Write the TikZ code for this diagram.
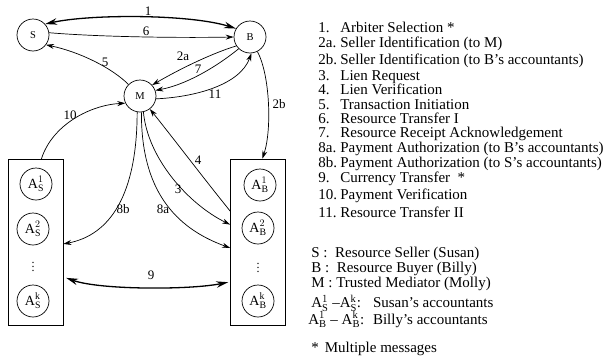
\documentclass[tikz,border=0pt]{standalone}
\usepackage{fontspec}
\setmainfont{Liberation Serif}
\usetikzlibrary{arrows.meta}

\begin{document}
\begin{tikzpicture}[x=1pt,y=-1pt,line width=0.7pt,
  party/.style={draw,circle,minimum size=32pt,inner sep=0pt,font=\fontsize{10.5}{12}\selectfont},
  acct/.style={draw,circle,minimum size=32pt,inner sep=0pt,font=\fontsize{14}{16}\selectfont},
  grp/.style={draw,minimum width=55pt,minimum height=166pt,inner sep=0pt},
  msg/.style={-{Stealth[length=8pt,width=5pt]}},
  bulk/.style={{Stealth[length=12pt,width=6.5pt]}-{Stealth[length=12pt,width=6.5pt]},line width=1.3pt},
  lbl/.style={inner sep=0.75pt,font=\fontsize{13}{15}\selectfont},
  txt/.style={anchor=base west,inner sep=0pt,font=\fontsize{15}{16}\selectfont}]
\useasboundingbox (0,0) rectangle (605,362);

%Parties
\node [party] (S) at (33,35) {S};
\node [party] (B) at (250,37) {B};
\node [party] (M) at (140,96) {M};

%Accountant groups
\node [grp] (boxL) at (35.5,242.5) {};
\node [grp] (boxR) at (258,242) {};
\node [acct] (AS1) at (36,184) {$\mathrm{A}^{1}_{\mathrm{S}}$};
\node [acct] (AS2) at (33,229) {$\mathrm{A}^{2}_{\mathrm{S}}$};
\node [inner sep=0pt,font=\fontsize{12}{12}\selectfont] (ASd) at (33,264) {$\vdots$};
\node [acct] (ASk) at (33,301) {$\mathrm{A}^{\mathrm{k}}_{\mathrm{S}}$};
\node [acct] (AB1) at (260,185) {$\mathrm{A}^{1}_{\mathrm{B}}$};
\node [acct] (AB2) at (258,228) {$\mathrm{A}^{2}_{\mathrm{B}}$};
\node [inner sep=0pt,font=\fontsize{12}{12}\selectfont] (ABd) at (258,265) {$\vdots$};
\node [acct] (ABk) at (258,301) {$\mathrm{A}^{\mathrm{k}}_{\mathrm{B}}$};

%Messages
\draw [bulk] (S.42) .. controls (90,14) and (190,14) .. (B.149);
\draw [msg] (S.8) .. controls (100,37) and (180,38) .. (B.180);
\draw [msg] (M.135) .. controls (112,68) and (80,52) .. (S.-37);
\draw [msg] (B.213) .. controls (210,54) and (178,70) .. (M.42);
\draw [msg] (B.226) .. controls (215,68) and (185,85) .. (M.20);
\draw [msg] (M.-10) .. controls (195,97) and (240,85) .. (B.-85);
\draw [msg] (B.-63) .. controls (270,75) and (272,130) .. (boxR.87);
\draw [msg] (boxL.86) .. controls (52,125) and (90,105) .. (M.206);
\draw [msg] (boxR.132) .. controls (205,180) and (170,134) .. (M.-53);
\draw [msg] (M.-78) .. controls (148,160) and (190,205) .. (boxR.148);
\draw [msg] (M.-85) .. controls (141,190) and (175,228) .. (boxR.192);
\draw [msg] (M.-100) .. controls (137,195) and (110,235) .. (boxL.-3);
\draw [bulk,shorten <=3pt,shorten >=2pt] (boxL.-51) .. controls (100,290) and (190,290) .. (boxR.235);

%Message numbers
\node [lbl] (m1) at (148,11) {1};
\node [lbl] (m6) at (146,31) {6};
\node [lbl] (m5) at (105,62) {5};
\node [lbl] (m2a) at (183,56) {2a};
\node [lbl] (m7) at (198,69) {7};
\node [lbl] (m11) at (215,94) {11};
\node [lbl] (m2b) at (279,104) {2b};
\node [lbl] (m10) at (70,115) {10};
\node [lbl] (m4) at (198,160) {4};
\node [lbl] (m3) at (178,189) {3};
\node [lbl] (m8a) at (163,209) {8a};
\node [lbl] (m8b) at (123,209) {8b};
\node [lbl] (m9) at (151,275) {9};

%Message list
\node [txt] (n1) at (318,32.7) {1.};
\node [txt] (t1) at (340,32.7) {Arbiter Selection *};
\node [txt] (n2a) at (318,47.7) {2a.};
\node [txt] (t2a) at (340,47.7) {Seller Identification (to M)};
\node [txt] (n2b) at (318,64) {2b.};
\node [txt] (t2b) at (340,64) {Seller Identification (to B's accountants)};
\node [txt] (n3) at (318,80) {3.};
\node [txt] (t3) at (340,80) {Lien Request};
\node [txt] (n4) at (318,94) {4.};
\node [txt] (t4) at (340,94) {Lien Verification};
\node [txt] (n5) at (318,109) {5.};
\node [txt] (t5) at (340,109) {Transaction Initiation};
\node [txt] (n6) at (318,123) {6.};
\node [txt] (t6) at (340,123) {Resource Transfer I};
\node [txt] (n7) at (318,137) {7.};
\node [txt] (t7) at (340,137) {Resource Receipt Acknowledgement};
\node [txt] (n8a) at (318,152.7) {8a.};
\node [txt] (t8a) at (340,152.7) {Payment Authorization (to B's accountants)};
\node [txt] (n8b) at (318,167.7) {8b.};
\node [txt] (t8b) at (340,167.7) {Payment Authorization (to S's accountants)};
\node [txt] (n9) at (318,182.3) {9.};
\node [txt] (t9) at (340,182.3) {Currency Transfer~~*};
\node [txt] (n10) at (318,199) {10.};
\node [txt] (t10) at (340,199) {Payment Verification};
\node [txt] (n11) at (318,217) {11.};
\node [txt] (t11) at (340,217) {Resource Transfer II};

%Key
\node [txt] (kS) at (311,257.3) {S :~~Resource Seller (Susan)};
\node [txt] (kB) at (311,272.7) {B :~~Resource Buyer (Billy)};
\node [txt] (kM) at (311,287.3) {M : Trusted Mediator (Molly)};
\node [txt] (kAS) at (311,307.7) {$\mathrm{A}^{1}_{\mathrm{S}}$ --$\mathrm{A}^{\mathrm{k}}_{\mathrm{S}}$:};
\node [txt] (kASd) at (372.7,307.7) {Susan's accountants};
\node [txt] (kAB) at (308,324) {$\mathrm{A}^{1}_{\mathrm{B}}$ -- $\mathrm{A}^{\mathrm{k}}_{\mathrm{B}}$:};
\node [txt] (kABd) at (372.7,324) {Billy's accountants};
\node [txt] (kst) at (311,352.3) {*\hspace{6pt}Multiple messages};

\end{tikzpicture}
\end{document}
